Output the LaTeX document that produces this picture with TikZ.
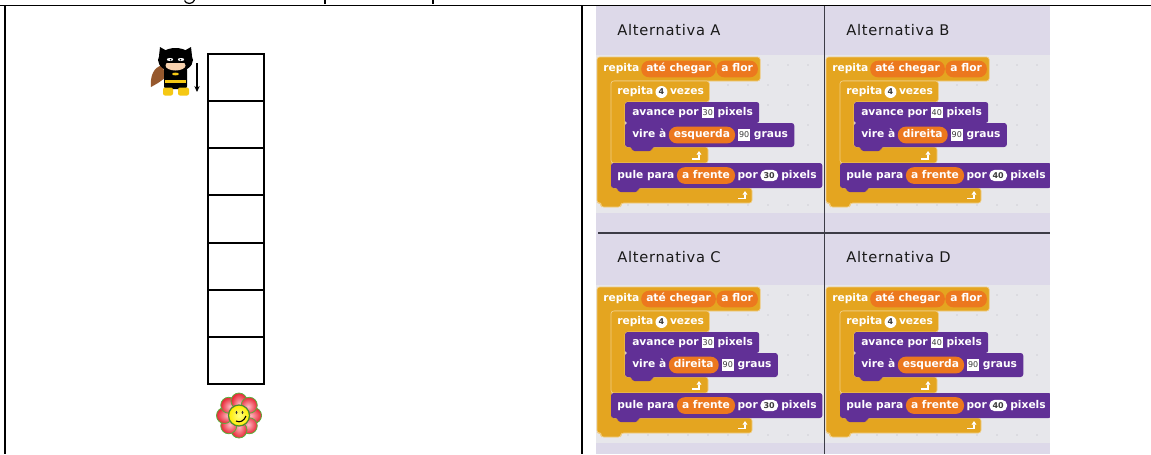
\documentclass[tikz,border=0pt]{standalone}
\usepackage{fontspec}
\setmainfont{Liberation Sans}
\newfontfamily\titlefont{DejaVu Sans}[LetterSpace=5]
\newfontfamily\blockfont{DejaVu Sans}
\usepackage{xcolor}
\usepackage{tikz}
\usetikzlibrary{arrows.meta, positioning, backgrounds}

\definecolor{panelcol}{RGB}{221,217,233}
\definecolor{scriptcol}{RGB}{231,231,235}
\definecolor{dotcol}{RGB}{208,208,214}
\definecolor{ctrlgold}{RGB}{228,165,32}
\definecolor{motionpurple}{RGB}{97,48,150}
\definecolor{reporterorange}{RGB}{236,120,30}
\definecolor{slotgrey}{RGB}{60,60,60}
\definecolor{rulegrey}{RGB}{60,60,70}
\definecolor{capebrown}{RGB}{150,88,45}
\definecolor{skin}{RGB}{248,210,175}
\definecolor{bootyellow}{RGB}{245,200,20}
\definecolor{petalred}{RGB}{232,40,55}
\definecolor{petalpink}{RGB}{255,185,195}
\definecolor{leafgreen}{RGB}{90,175,60}

\pgfdeclarelayer{panel}
\pgfdeclarelayer{blocks}
\pgfsetlayers{panel,blocks,main}

\tikzset{
  titletext/.style={
    inner sep=0pt, text=black!90, font=\titlefont\fontsize{11}{13}\selectfont
  },
  blocktext/.style={
    inner sep=0pt, text=white, text height=6pt, text depth=1.7pt,
    font=\blockfont\bfseries\fontsize{8}{9}\selectfont
  },
  reporter/.style={
    blocktext, fill=reporterorange, rounded corners=6pt,
    inner xsep=3.8pt, minimum height=12.5pt
  },
  textslot/.style={
    fill=white, inner xsep=0.6pt, inner ysep=0pt, minimum height=8.5pt,
    minimum width=8pt, text=slotgrey, font=\blockfont\fontsize{6}{6}\selectfont
  },
  numslot/.style={
    fill=white, rounded corners=4pt, inner xsep=2.5pt, inner ysep=0pt,
    minimum height=8.5pt, text=slotgrey,
    font=\blockfont\bfseries\fontsize{6}{6}\selectfont
  },
  countslot/.style={
    circle, fill=white, inner sep=0pt, minimum size=9pt, text=slotgrey,
    font=\blockfont\bfseries\fontsize{6}{6}\selectfont
  },
  cmdblock/.style={fill=motionpurple, rounded corners=2pt},
  ctrlblock/.style={
    fill=ctrlgold, draw=ctrlgold!55!white, line width=0.5pt, rounded corners=2pt
  },
  returnarrow/.style={
    draw=white, line width=1.1pt, -{Triangle[length=2.8pt,width=3.6pt]}
  },
  gridcell/.style={
    draw, line width=1.5pt, minimum width=42pt, minimum height=35.36pt,
    inner sep=0pt
  },
  tablerule/.style={line width=1.3pt},
  panelrule/.style={draw=rulegrey, line width=1.1pt},
}

% one answer panel: #1 origin, #2 letter, #3 title baseline,
% #4 step length, #5 turn direction, #6 panel width
\newcommand{\scriptpanel}[6]{%
\begin{scope}[shift={(#1)}]
  % scripting area with its dot grid
  \begin{pgfonlayer}{panel}
    \fill[scriptcol] (0,49) rectangle (#6,207);
    \foreach \dx in {12,32,...,#6}
      \foreach \dy in {59,79,...,199}
        \fill[dotcol] (\dx,\dy) circle (0.9);
  \end{pgfonlayer}
  \node[titletext, anchor=base west] (title#2) at (21,#3) {Alternativa #2};

  % row levels
  \coordinate (lv0#2) at (0,51);
  \coordinate (lv1#2) at (0,75);
  \coordinate (lv2#2) at (0,96);
  \coordinate (lv3#2) at (0,117);
  \coordinate (lv4#2) at (0,141);
  \coordinate (lv5#2) at (0,157);
  \coordinate (lv6#2) at (0,182);

  % repita ate chegar a flor
  \node[blocktext, anchor=west] (rep#2) at (7,63) {repita};
  \node[reporter, right=1pt of rep#2] (goal#2) {até chegar};
  \node[reporter, right=0pt of goal#2] (flor#2) {a flor};
  % repita 4 vezes
  \node[blocktext, anchor=west] (rpt#2) at (21,86) {repita};
  \node[countslot, right=1.2pt of rpt#2] (four#2) {4};
  \node[blocktext, right=1.5pt of four#2] (vez#2) {vezes};
  % avance
  \node[blocktext, anchor=west] (adv#2) at (36,106.5) {avance por};
  \node[textslot, right=2pt of adv#2] (advn#2) {#4};
  \node[blocktext, right=2.5pt of advn#2] (advpx#2) {pixels};
  % vire
  \node[blocktext, anchor=west] (turn#2) at (36,129) {vire à};
  \node[reporter, right=1.5pt of turn#2] (dir#2) {#5};
  \node[textslot, right=2pt of dir#2] (deg#2) {90};
  \node[blocktext, right=2.5pt of deg#2] (graus#2) {graus};
  % pule
  \node[blocktext, anchor=west] (jump#2) at (21,169.5) {pule para};
  \node[reporter, right=1.5pt of jump#2] (fwd#2) {a frente};
  \node[blocktext, right=1.5pt of fwd#2] (por#2) {por};
  \node[numslot, right=1.5pt of por#2] (jmpn#2) {#4};
  \node[blocktext, right=2pt of jmpn#2] (jmppx#2) {pixels};

  % right ends of the blocks
  \coordinate (hdrR#2) at ([xshift=1.5pt]flor#2.east);
  \coordinate (rptR#2) at ([xshift=3.8pt]vez#2.east);
  \coordinate (advR#2) at ([xshift=4.5pt]advpx#2.east);
  \coordinate (turnR#2) at ([xshift=4.5pt]graus#2.east);
  \coordinate (jumpR#2) at ([xshift=4pt]jmppx#2.east);

  \begin{pgfonlayer}{blocks}
    \path[ctrlblock] (1,51) -- (hdrR#2 |- lv0#2) -- (hdrR#2 |- lv1#2)
      -- (16,75) -- (16,182) -- (156,182) -- (156,197) -- (25,197)
      -- (25,201) -- (5,201) -- (5,197) -- (1,197) -- cycle;
    \path[ctrlblock] (15,75) -- (rptR#2 |- lv1#2) -- (rptR#2 |- lv2#2)
      -- (29,96) -- (29,141) -- (112,141) -- (112,157) -- (15,157) -- cycle;
    \path[cmdblock] (29,96) rectangle (advR#2 |- lv3#2);
    \path[cmdblock] (29,117) -- (turnR#2 |- lv3#2) -- (turnR#2 |- lv4#2)
      -- (56,141) -- (56,145) -- (36,145) -- (36,141) -- (29,141) -- cycle;
    \path[cmdblock] (15,157) -- (jumpR#2 |- lv5#2) -- (jumpR#2 |- lv6#2)
      -- (42,182) -- (42,186) -- (22,186) -- (22,182) -- (15,182) -- cycle;
  \end{pgfonlayer}

  % loop ends
  \coordinate (loopa#2) at (96,153);
  \coordinate (loopb#2) at (103,145);
  \coordinate (loopc#2) at (142,192.5);
  \coordinate (loopd#2) at (149,185);
  \draw[returnarrow] (loopa#2) -| (loopb#2);
  \draw[returnarrow] (loopc#2) -| (loopd#2);
\end{scope}}

\begin{document}
\begin{tikzpicture}[x=0.75pt, y=-0.75pt]
  \useasboundingbox (0,0) rectangle (1151,454);
  \begin{pgfonlayer}{panel}
    \fill[white] (0,0) rectangle (1151,454);
    \fill[panelcol] (596,6) rectangle (1050,454);
  \end{pgfonlayer}

  % descenders of the line above
  \draw[line width=0.9pt] (184.5,0.5) .. controls (186,4.5) and (193,4.5) .. (194.5,0);
  \draw[line width=0.9pt] (325,0) -- (325,3.5);
  \draw[line width=1.6pt] (433,0) -- (433,3.5);

  % track of seven squares
  \foreach \i in {1,...,7}
    \node[gridcell] (cell\i) at (236,{30.43+47.14*\i}) {};

  % batgirl figure
  \fill[capebrown] (163,65) .. controls (153,67) and (150,77) .. (151,87)
    -- (158,83) -- (165,78) -- cycle;
  \fill[black, rounded corners=2pt] (164,67) rectangle (187,89);
  \fill[bootyellow] (165,80) rectangle (186,82.5);
  \fill[bootyellow] (175.5,74) ellipse (3.5 and 1.4);
  \fill[bootyellow, rounded corners=1.5pt] (163,87.5) rectangle (173,95.5);
  \fill[bootyellow, rounded corners=1.5pt] (178,87.5) rectangle (189,95.5);
  \fill[black] (175.5,60) ellipse (17.5 and 12);
  \fill[black] (159,56) -- (160,47) -- (167,51) -- cycle;
  \fill[black] (184,51) -- (191,47) -- (192,56) -- cycle;
  \fill[skin] (175.5,65.5) ellipse (10 and 5);
  \fill[black] (164,57) rectangle (187,62.5);
  \fill[white] (170,59.5) ellipse (3.2 and 1.5);
  \fill[white] (181,59.5) ellipse (3.2 and 1.5);
  \fill[black] (170.5,59.7) circle (0.9);
  \fill[black] (180.5,59.7) circle (0.9);
  \coordinate (movetop) at (197,63);
  \coordinate (movetip) at (197,92);
  \draw[line width=1.1pt, -{Stealth[length=4.5pt,width=4pt]}] (movetop) -- (movetip);

  % flower at the end of the track
  \coordinate (flower) at (239,415.5);
  \foreach \a in {0,45,...,315}
    \shadedraw[inner color=petalpink, outer color=petalred, draw=leafgreen,
      line width=0.6pt] (flower) ++(\a:14.5) circle (8);
  \shadedraw[inner color=yellow!50!white, outer color=yellow!85!orange,
    draw=leafgreen!80!black, line width=0.9pt] (flower) circle (10.5);
  \fill[black!80] (236.5,412.5) ellipse (1 and 1.7);
  \fill[black!80] (242.5,412.5) ellipse (1 and 1.7);
  \draw[line width=0.8pt] (236,421) .. controls (240,423) and (244,421) .. (246,416);

  % the four answers
  \scriptpanel{596,6}{A}{29}{30}{esquerda}{228}
  \scriptpanel{825,6}{B}{29}{40}{direita}{225}
  \scriptpanel{596,236}{C}{26}{30}{direita}{228}
  \scriptpanel{825,236}{D}{26}{40}{esquerda}{225}

  % right edge of the screenshot
  \fill[white] (1050.3,6.5) rectangle (1151,454);
  \draw[panelrule] (824.5,6) -- (824.5,454);
  \draw[panelrule] (598,232.8) -- (1050,232.8);

  % table rules
  \draw[tablerule] (0,5.5) -- (1151,5.5);
  \draw[tablerule] (5,5.5) -- (5,454);
  \draw[tablerule] (581.8,5.5) -- (581.8,454);
\end{tikzpicture}
\end{document}
